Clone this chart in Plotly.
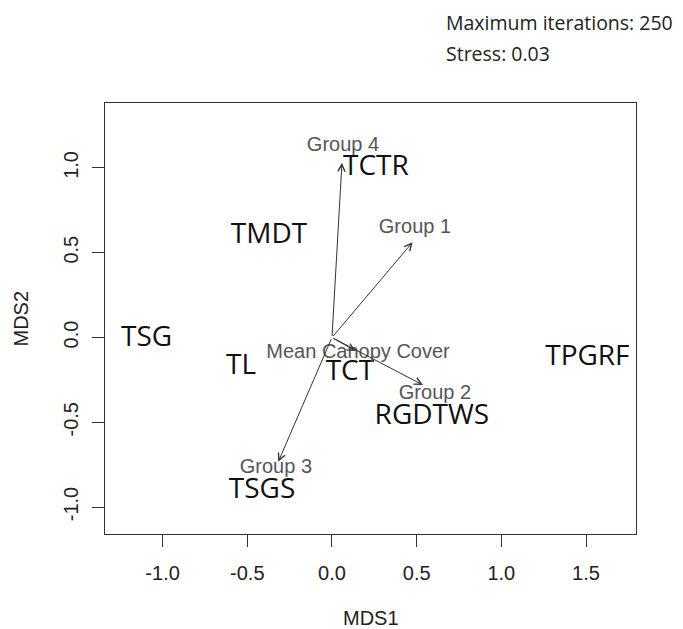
import plotly.graph_objects as go

# Site scores (labels)
sites = ["TSG", "TMDT", "TCTR", "TL", "TCT", "TPGRF", "RGDTWS", "TSGS"]
site_x = [-1.094, -0.372, 0.259, -0.537, 0.106, 1.508, 0.59, -0.413]
site_y = [-0.01, 0.599, 1.0, -0.174, -0.209, -0.121, -0.469, -0.906]

# Fitted vectors (envfit arrows)
vectors = ["Group 1", "Group 2", "Group 3", "Group 4", "Mean Canopy Cover"]
vec_x = [0.476, 0.537, -0.317, 0.059, 0.14]
vec_y = [0.562, -0.28, -0.733, 1.03, -0.08]
vec_label_x = [0.49, 0.608, -0.331, 0.065, 0.154]
vec_label_y = [0.646, -0.334, -0.77, 1.13, -0.09]

x_ticks = [-1.0, -0.5, 0.0, 0.5, 1.0, 1.5]
y_ticks = [-1.0, -0.5, 0.0, 0.5, 1.0]

max_iter = 250
stress = 0.03

fig = go.Figure()

fig.add_trace(go.Scatter(
    x=site_x, y=site_y, mode="text", text=sites,
    textposition="middle center",
    textfont=dict(family="Open Sans", size=28, color="#111111"),
    hoverinfo="skip", showlegend=False,
))

fig.add_trace(go.Scatter(
    x=vec_label_x, y=vec_label_y, mode="text", text=vectors,
    textposition="middle center",
    textfont=dict(family="Liberation Sans", size=20, color="#555555"),
    hoverinfo="skip", showlegend=False,
))

for vx, vy in zip(vec_x, vec_y):
    fig.add_annotation(
        x=vx, y=vy, ax=0, ay=0, xref="x", yref="y", axref="x", ayref="y",
        text="", showarrow=True, arrowhead=5, arrowsize=1.4, arrowwidth=1,
        arrowcolor="#333333",
    )

fig.add_annotation(
    x=0.5, y=0, xref="paper", yref="paper", text="MDS1", showarrow=False,
    xanchor="center", yanchor="middle", yshift=-84,
    font=dict(family="Liberation Sans", size=20, color="#222222"),
)
fig.add_annotation(
    x=0, y=0.5, xref="paper", yref="paper", text="MDS2", showarrow=False,
    xanchor="center", yanchor="middle", xshift=-85, textangle=-90,
    font=dict(family="Liberation Sans", size=20, color="#222222"),
)
fig.add_annotation(
    x=0.638, y=1.186, xref="paper", yref="paper",
    text=f"Maximum iterations: {max_iter}", showarrow=False,
    xanchor="left", yanchor="middle",
    font=dict(family="Open Sans", size=19.5, color="#222222"),
)
fig.add_annotation(
    x=0.638, y=1.114, xref="paper", yref="paper",
    text=f"Stress: {stress:.2f}", showarrow=False,
    xanchor="left", yanchor="middle",
    font=dict(family="Open Sans", size=19.5, color="#222222"),
)

axis_common = dict(
    showgrid=False, zeroline=False, showline=True, linecolor="#333333",
    linewidth=1, mirror=True, ticks="outside", ticklen=12, tickwidth=1,
    tickcolor="#333333",
    tickfont=dict(family="Liberation Sans", size=20, color="#222222"),
)

fig.update_layout(
    width=675, height=621,
    margin=dict(l=97, r=47, t=95, b=95),
    paper_bgcolor="white", plot_bgcolor="white",
    xaxis=dict(range=[-1.340, 1.795], tickvals=x_ticks,
               ticktext=[f"{v:.1f}" for v in x_ticks],
               ticklabelstandoff=9, **axis_common),
    yaxis=dict(range=[-1.159, 1.383], tickvals=y_ticks,
               ticktext=[f"{v:.1f}" for v in y_ticks], tickangle=-90,
               ticklabelstandoff=6, **axis_common),
)

fig.write_html("out.html")
